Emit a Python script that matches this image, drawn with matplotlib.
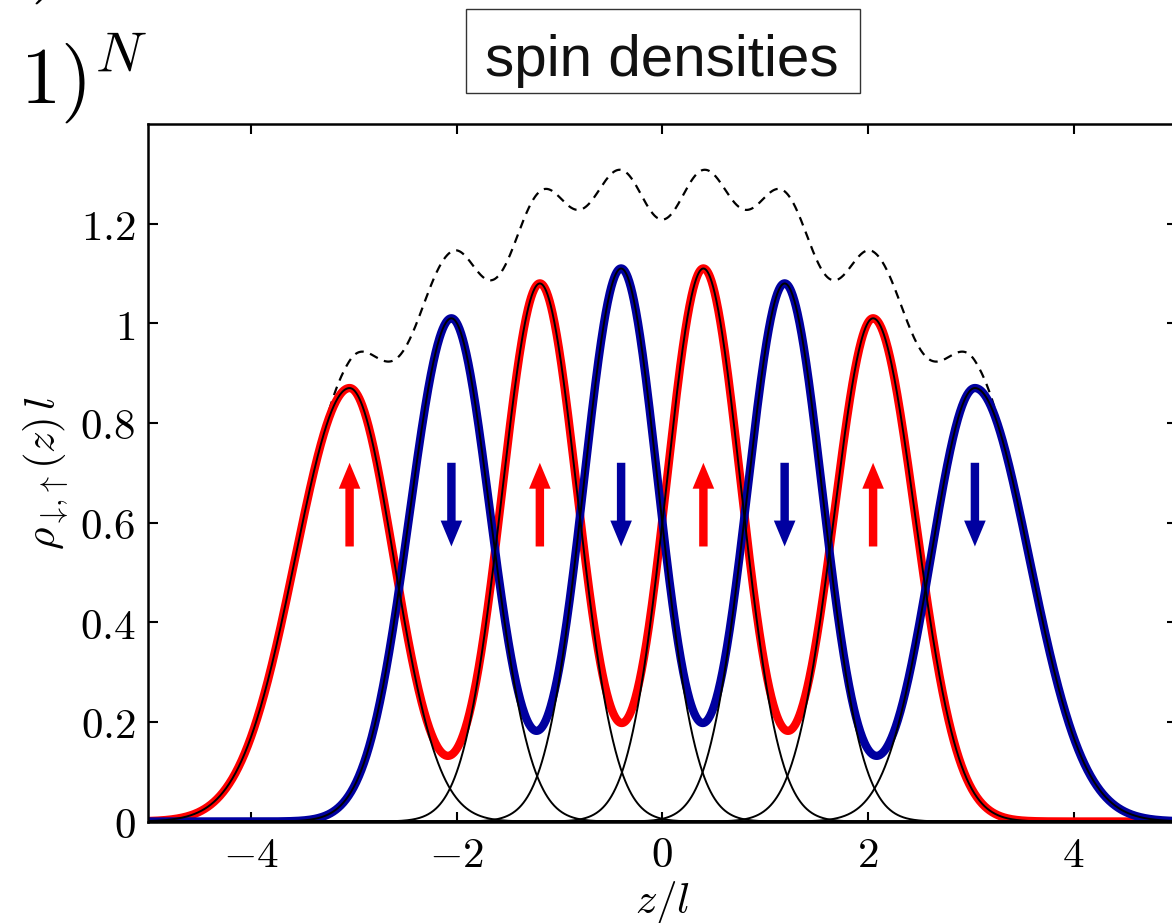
import numpy as np
import matplotlib.pyplot as plt
from matplotlib.patches import Rectangle

plt.rcParams['mathtext.fontset'] = 'cm'
plt.rcParams['font.family'] = 'DejaVu Serif'

# single-particle densities: centre, peak height,
# width on the left / right flank, and the spin of each one
centres = [-3.04, -2.05, -1.19, -0.40, 0.40, 1.19, 2.05, 3.04]
heights = [0.87, 1.01, 1.08, 1.11, 1.11, 1.08, 1.01, 0.87]
width_left = [0.53, 0.41, 0.37, 0.365, 0.36, 0.365, 0.38, 0.43]
width_right = [0.43, 0.38, 0.365, 0.36, 0.365, 0.37, 0.41, 0.53]
spins = ['up', 'down', 'up', 'down', 'up', 'down', 'up', 'down']

# spin arrows (from / to in rho units)
arrow_low = 0.552
arrow_high = 0.72

xticks = [-4, -2, 0, 2, 4]
yticks = [0, 0.2, 0.4, 0.6, 0.8, 1.0, 1.2]
ytick_labels = ['0', '0.2', '0.4', '0.6', '0.8', '1', '1.2']

red = '#ff0000'
blue = '#0000a0'

z = np.linspace(-5, 5, 2001)


def orbital(c, h, wl, wr):
    w = np.where(z < c, wl, wr)
    return h * np.exp(-(z - c) ** 2 / (2 * w ** 2))


orbs = [orbital(c, h, wl, wr) for c, h, wl, wr in zip(centres, heights, width_left, width_right)]
rho_up = sum(o for o, s in zip(orbs, spins) if s == 'up')
rho_down = sum(o for o, s in zip(orbs, spins) if s == 'down')
rho_tot = rho_up + rho_down

fig = plt.figure(figsize=(11.72, 9.23), dpi=100)
ax = fig.add_axes([148 / 1172, 1 - 821.5 / 923, 1028.5 / 1172, 697.5 / 923])

ax.plot(z, rho_tot, color='black', lw=1.6, ls=(0, (4, 3)))
ax.plot(z, rho_up, color=red, lw=6, solid_capstyle='round')
ax.plot(z, rho_down, color=blue, lw=6, solid_capstyle='round')
for o in orbs:
    ax.plot(z, o, color='black', lw=1.4)

for c, s in zip(centres, spins):
    if s == 'up':
        ax.arrow(c, arrow_low, 0, arrow_high - arrow_low, width=0.082, head_width=0.21,
                 head_length=0.052, length_includes_head=True, color=red, lw=0, zorder=5)
    else:
        ax.arrow(c, arrow_high, 0, arrow_low - arrow_high, width=0.082, head_width=0.21,
                 head_length=0.052, length_includes_head=True, color=blue, lw=0, zorder=5)

ax.set_xlim(-5, 5)
ax.set_ylim(0, 1.4)
ax.set_xticks(xticks)
ax.set_xticklabels(['$%d$' % t for t in xticks])
ax.set_yticks(yticks)
ax.set_yticklabels(['$%s$' % t for t in ytick_labels])
ax.tick_params(direction='in', length=7, width=1.5, labelsize=31,
               top=True, right=True)
ax.tick_params(axis='x', pad=9)
ax.tick_params(axis='y', pad=9)
for sp in ax.spines.values():
    sp.set_linewidth(1.8)

ax.set_xlabel(r'$z/l$', fontsize=31, labelpad=2)
ax.set_ylabel(r'$\rho_{\downarrow\!,\!\uparrow}(z)\,l$', fontsize=31, labelpad=6)

# boxed heading
fig.patches.append(Rectangle((466 / 1172, 1 - 93 / 923), 394 / 1172, 84 / 923,
                             transform=fig.transFigure, fill=False,
                             ec='#333333', lw=1.0))
fig.text(661.5 / 1172, 1 - 76 / 923, 'spin densities', family='Liberation Sans',
         fontsize=42, ha='center', va='baseline', color='#111111')

fig.text(20 / 1172, 1 - 103 / 923, r'$1)^N$', fontsize=58, ha='left', va='baseline')
fig.text(30 / 1172, 1 + 16 / 923, r'$)$', fontsize=58, ha='left', va='baseline')

fig.savefig('out.png', dpi=100)
